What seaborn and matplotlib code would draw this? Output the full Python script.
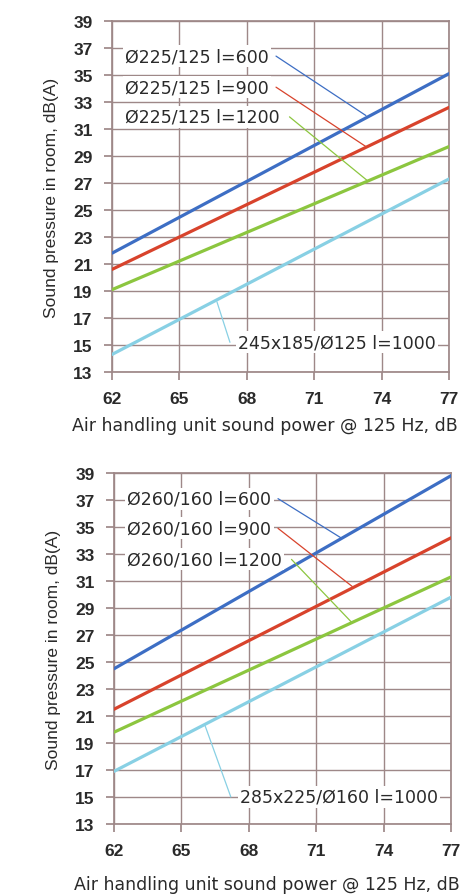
import numpy as np
import pandas as pd
import seaborn as sns
import matplotlib.pyplot as plt

# AHU sound power vs room sound pressure, two duct sizes
x_vals = [62, 77]

top_labels = ["Ø225/125 l=600", "Ø225/125 l=900", "Ø225/125 l=1200", "245x185/Ø125 l=1000"]
top_y = [[21.8, 35.1], [20.6, 32.6], [19.1, 29.7], [14.3, 27.3]]

bot_labels = ["Ø260/160 l=600", "Ø260/160 l=900", "Ø260/160 l=1200", "285x225/Ø160 l=1000"]
bot_y = [[24.5, 38.8], [21.5, 34.2], [19.8, 31.3], [16.9, 29.8]]

colors = ["#3d6ec4", "#d8432c", "#8cc63f", "#88d0e4"]

# label text position, leader start, leader end (data units)
top_notes = [((62.6, 36.4), (69.3, 36.4), (73.3, 32.0)),
             ((62.6, 34.1), (69.3, 34.1), (73.3, 29.7)),
             ((62.6, 31.9), (69.9, 31.9), (73.35, 27.2)),
             ((67.6, 15.2), (67.25, 15.2), (66.67, 18.2))]
bot_notes = [((62.6, 37.1), (69.3, 37.1), (72.1, 34.2)),
             ((62.6, 34.9), (69.3, 34.9), (72.6, 30.6)),
             ((62.6, 32.6), (69.9, 32.6), (72.6, 27.9)),
             ((67.6, 15.0), (67.2, 15.0), (66.05, 20.3))]

sns.set_theme(style="white")
plt.rcParams['font.family'] = ['DejaVu Sans']

grid_c = "#9e8888"
txt_c = "#2a2a2a"


def draw(ax, labels, ys, notes, xlab_y):
    rows = []
    for lab, yy in zip(labels, ys):
        for xv, yv in zip(x_vals, yy):
            rows.append({"x": xv, "y": yv, "s": lab})
    df = pd.DataFrame(rows)
    sns.lineplot(data=df, x="x", y="y", hue="s", palette=colors, linewidth=2.3,
                 legend=False, ax=ax, zorder=3)
    for i, (tp, ls, le) in enumerate(notes):
        ax.plot([ls[0], le[0]], [ls[1], le[1]], color=colors[i], lw=0.9, zorder=4)
        ax.text(tp[0], tp[1], labels[i], fontsize=12.5, color=txt_c, va="center", ha="left",
                zorder=5, bbox=dict(facecolor="white", edgecolor="none", pad=1.5))
    ax.set_xlim(62, 77)
    ax.set_ylim(13, 39)
    ax.set_xticks(np.arange(62, 78, 3))
    ax.set_yticks(np.arange(13, 40, 2))
    ax.grid(True, color=grid_c, lw=1.0)
    for sp in ax.spines.values():
        sp.set_color(grid_c)
    ax.tick_params(axis="both", direction="out", length=6, color=grid_c, labelcolor=txt_c,
                   bottom=True, left=True)
    ax.tick_params(axis="y", pad=8)
    ax.tick_params(axis="x", pad=8)
    for t in ax.get_xticklabels() + ax.get_yticklabels():
        t.set_family("Liberation Sans")
        t.set_fontweight("bold")
        t.set_fontsize(12.5)
    ax.set_xlabel("Air handling unit sound power @ 125 Hz, dB", fontsize=12.5, color=txt_c)
    ax.xaxis.set_label_coords(0.454, xlab_y)
    ax.set_ylabel("Sound pressure in room, dB(A)", fontsize=12.5, color=txt_c,
                  family="Liberation Sans", labelpad=10)


fig = plt.figure(figsize=(4.72, 8.95), dpi=100)
ax1 = fig.add_axes([112 / 472, 1 - 373 / 895, 337 / 472, 351 / 895])
ax2 = fig.add_axes([114 / 472, 1 - 825 / 895, 337 / 472, 351 / 895])
draw(ax1, top_labels, top_y, top_notes, -0.125)
draw(ax2, bot_labels, bot_y, bot_notes, -0.145)

fig.savefig("out.png", dpi=100)
